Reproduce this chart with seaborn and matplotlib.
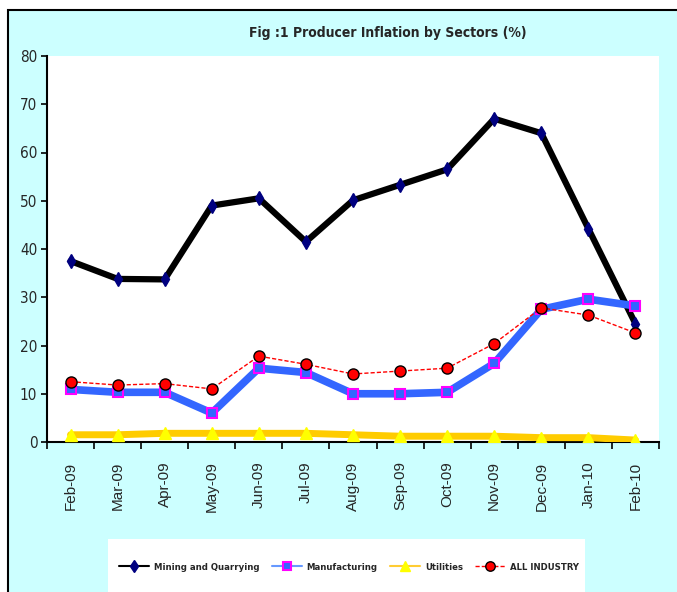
import numpy as np
import matplotlib
matplotlib.use('Agg')
import matplotlib.pyplot as plt
from matplotlib.patches import Rectangle
from matplotlib.lines import Line2D
from matplotlib import font_manager
import seaborn as sns
import pandas as pd

months = ['Feb-09', 'Mar-09', 'Apr-09', 'May-09', 'Jun-09', 'Jul-09', 'Aug-09',
          'Sep-09', 'Oct-09', 'Nov-09', 'Dec-09', 'Jan-10', 'Feb-10']
mining = [37.5, 33.8, 33.7, 49.0, 50.5, 41.5, 50.1, 53.3, 56.5, 67.0, 64.0, 44.2, 24.5]
manufacturing = [10.9, 10.3, 10.3, 6.0, 15.3, 14.4, 10.0, 10.0, 10.3, 16.3, 27.5, 29.6, 28.2]
utilities = [1.5, 1.5, 1.8, 1.8, 1.8, 1.8, 1.5, 1.2, 1.2, 1.2, 0.9, 0.9, 0.4]
all_industry = [12.5, 11.8, 12.1, 11.0, 17.8, 16.1, 14.1, 14.7, 15.3, 20.4, 27.8, 26.3, 22.6]
series_names = ['Mining and Quarrying', 'Manufacturing', 'Utilities', 'ALL INDUSTRY']

df = pd.DataFrame({'month': months * 4,
                   'value': mining + manufacturing + utilities + all_industry,
                   'series': np.repeat(series_names, len(months))})

sns.set_style('white')
plt.rcParams['font.family'] = ['Liberation Sans', 'DejaVu Sans']
narrow = dict(family=['DejaVu Sans'], stretch='condensed')

fig = plt.figure(figsize=(6.77, 5.92), dpi=100)
fig.patch.set_facecolor('white')
# cyan chart area with border on top/left
fig.patches.append(Rectangle((8 / 677, -0.1), 1.2, 1 - 10 / 592 + 0.1, transform=fig.transFigure,
                             facecolor='#CCFFFF', edgecolor='black', lw=1.5, zorder=0))
# white legend box
fig.patches.append(Rectangle((108 / 677, -0.05), (585 - 108) / 677, (592 - 539) / 592 + 0.05,
                             transform=fig.transFigure, facecolor='white', edgecolor='none', zorder=1))

ax = fig.add_axes([47 / 677, 1 - 442 / 592, (659 - 47) / 677, (442 - 56) / 592])
ax.set_zorder(5)
ax.set_facecolor('white')

styles = {
    'Mining and Quarrying': dict(color='black', lw=4.5, marker='d', ms=7, mfc='#000080', mec='#000080', ls='-', zorder=3),
    'Manufacturing': dict(color='#3366FF', lw=5.5, marker='s', ms=7.5, mfc='#3366FF', mec='#FF00FF', mew=1.5, ls='-', zorder=4),
    'Utilities': dict(color='#FFCC00', lw=5, marker='^', ms=8, mfc='#FFFF00', mec='#FFFF00', ls='-', zorder=5),
    'ALL INDUSTRY': dict(color='#FF0000', lw=1, marker='o', ms=8, mfc='#FF0000', mec='black', mew=1, ls=(0, (3, 1.5)), zorder=6),
}
for name in series_names:
    st = styles[name]
    sub = df[df['series'] == name]
    sns.lineplot(data=sub, x='month', y='value', ax=ax, sort=False, color=st['color'],
                 linewidth=st['lw'], linestyle=st['ls'], marker=st['marker'], markersize=st['ms'],
                 markerfacecolor=st['mfc'], markeredgecolor=st['mec'], markeredgewidth=st.get('mew', 1),
                 zorder=st['zorder'], legend=False)

ax.set_xlim(-0.5, len(months) - 0.5)
ax.set_ylim(0, 80)
ax.set_yticks(range(0, 81, 10))
ax.set_xticks(range(len(months)))
ax.set_xticklabels(months, rotation=90, fontsize=11)
ax.set_xticks(np.arange(-0.5, len(months), 1), minor=True)
ax.tick_params(axis='x', which='major', length=0, pad=14)
ax.tick_params(axis='x', which='minor', length=5, width=1.2, direction='out', color='black', bottom=True)
ax.tick_params(axis='y', length=4, width=1.2, direction='out', color='black', left=True, pad=3)
for lbl in ax.get_yticklabels():
    lbl.set_family(narrow['family'])
    lbl.set_stretch('condensed')
    lbl.set_fontsize(11)
ax.set_xlabel('')
ax.set_ylabel('')
for s in ['top', 'right']:
    ax.spines[s].set_visible(False)
for s in ['left', 'bottom']:
    ax.spines[s].set_color('black')
    ax.spines[s].set_linewidth(1.5)

fig.text(388 / 677, 1 - 33 / 592, 'Fig :1 Producer Inflation by Sectors (%)', ha='center', va='center',
         fontsize=10, fontweight='bold', **narrow)

handles = []
for name in series_names:
    st = styles[name]
    lc = {'Manufacturing': '#6699FF', 'Utilities': '#FFCC33'}.get(name, st['color'])
    handles.append(Line2D([], [], color=lc, lw=1.5 if name != 'ALL INDUSTRY' else 1, ls=st['ls'],
                          marker=st['marker'], ms=st['ms'] * 0.85, mfc=st['mfc'], mec=st['mec'],
                          mew=st.get('mew', 1)))
leg = fig.legend(handles, series_names, loc='center', bbox_to_anchor=(349 / 677, 1 - 567 / 592),
                 ncol=4, frameon=False, handlelength=3.2, columnspacing=1.3, handletextpad=0.5,
                 prop=font_manager.FontProperties(family=narrow['family'], stretch='condensed',
                                                  weight='bold', size=6.8))
leg.set_zorder(10)

fig.savefig('out.png', dpi=100)
